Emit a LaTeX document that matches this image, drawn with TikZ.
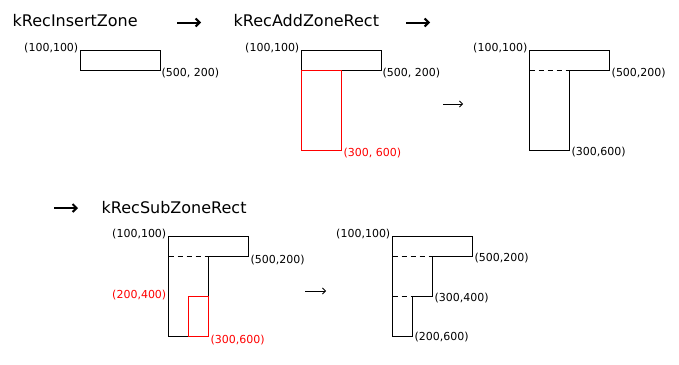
\documentclass[tikz,border=0pt]{standalone}
\usepackage{fontspec}
\setmainfont{DejaVu Sans}
\usetikzlibrary{arrows.meta}
\begin{document}
\begin{tikzpicture}[x=1pt,y=-1pt,
  outl/.style={draw=black,line width=1pt},
  redoutl/.style={draw=red,line width=1pt},
  dashline/.style={draw=black,line width=1pt,dash pattern=on 5pt off 4pt},
  lbl/.style={font=\fontsize{11}{12}\selectfont,inner sep=0pt},
  redlbl/.style={lbl,text=red},
  title/.style={font=\fontsize{16}{18}\selectfont,inner sep=0pt,anchor=base west},
  bigarrow/.style={line width=2pt,-{Straight Barb[length=4pt,width=8pt]}},
  smallarrow/.style={line width=0.8pt,-{Straight Barb[length=3pt,width=6pt]}}]
\useasboundingbox (0,0) rectangle (679,364);
% titles
\node[title] (t1) at (12.5,26.7) {kRecInsertZone};
\node[title] (t2) at (233.5,26.7) {kRecAddZoneRect};
\node[title] (t3) at (101.5,213) {kRecSubZoneRect};
% arrows
\coordinate (a1s) at (177,22.5); \coordinate (a1e) at (201,22.5);
\coordinate (a2s) at (406,22.5); \coordinate (a2e) at (430,22.5);
\coordinate (a3s) at (54,208); \coordinate (a3e) at (78,208);
\coordinate (a4s) at (443,104); \coordinate (a4e) at (463,104);
\coordinate (a5s) at (305,291); \coordinate (a5e) at (326,291);
\draw[bigarrow] (a1s) -- (a1e);
\draw[bigarrow] (a2s) -- (a2e);
\draw[bigarrow] (a3s) -- (a3e);
\draw[smallarrow] (a4s) -- (a4e);
\draw[smallarrow] (a5s) -- (a5e);
% diagram 1
\coordinate (d1a) at (80.5,50.5); \coordinate (d1b) at (160.5,70.5);
\draw[outl] (d1a) rectangle (d1b);
\node[lbl,anchor=east] (d1l1) at ([shift={(-2,-2)}]d1a) {(100,100)};
\node[lbl,anchor=west] (d1l2) at ([shift={(1,3)}]d1b) {(500, 200)};
% diagram 2
\coordinate (d2a) at (301.5,50.5); \coordinate (d2b) at (381.5,70.5);
\coordinate (d2c) at (301.5,70.5); \coordinate (d2d) at (341.5,150.5);
\draw[outl] (d2a) rectangle (d2b);
\draw[redoutl] (d2c) rectangle (d2d);
\node[lbl,anchor=east] (d2l1) at ([shift={(-2,-2)}]d2a) {(100,100)};
\node[lbl,anchor=west] (d2l2) at ([shift={(1,3)}]d2b) {(500, 200)};
\node[redlbl,anchor=west] (d2l3) at ([shift={(2,3)}]d2d) {(300, 600)};
% diagram 3
\coordinate (d3a) at (529.5,50.5); \coordinate (d3b) at (609.5,70.5);
\coordinate (d3c) at (569.5,150.5);
\draw[outl] (d3a) -- (d3b |- d3a) -- (d3b) -- (d3c |- d3b) -- (d3c) -- (d3a |- d3c) -- cycle;
\draw[dashline] (d3a |- d3b) -- (d3c |- d3b);
\node[lbl,anchor=east] (d3l1) at ([shift={(-2,-2)}]d3a) {(100,100)};
\node[lbl,anchor=west] (d3l2) at ([shift={(2,3)}]d3b) {(500,200)};
\node[lbl,anchor=west] (d3l3) at ([shift={(2,2)}]d3c) {(300,600)};
% diagram 4
\coordinate (d4a) at (168.5,236.5); \coordinate (d4b) at (248.5,256.5);
\coordinate (d4c) at (208.5,336.5);
\coordinate (d4r1) at (188.5,296.5);
\draw[outl] (d4a) -- (d4b |- d4a) -- (d4b) -- (d4c |- d4b) -- (d4c) -- (d4a |- d4c) -- cycle;
\draw[dashline] (d4a |- d4b) -- (d4c |- d4b);
\draw[redoutl] (d4r1) rectangle (d4c);
\node[lbl,anchor=east] (d4l1) at ([shift={(-2,-2)}]d4a) {(100,100)};
\node[lbl,anchor=west] (d4l2) at ([shift={(2,4)}]d4b) {(500,200)};
\node[redlbl,anchor=east] (d4l3) at (166.5,295) {(200,400)};
\node[redlbl,anchor=west] (d4l4) at ([shift={(2,4)}]d4c) {(300,600)};
% diagram 5
\coordinate (d5a) at (392.5,236.5); \coordinate (d5b) at (472.5,256.5);
\coordinate (d5c) at (432.5,296.5); \coordinate (d5d) at (412.5,336.5);
\draw[outl] (d5a) -- (d5b |- d5a) -- (d5b) -- (d5c |- d5b) -- (d5c) -- (d5d |- d5c) -- (d5d) -- (d5a |- d5d) -- cycle;
\draw[dashline] (d5a |- d5b) -- (d5c |- d5b);
\draw[dashline] (d5a |- d5c) -- (d5d |- d5c);
\node[lbl,anchor=east] (d5l1) at ([shift={(-2,-2)}]d5a) {(100,100)};
\node[lbl,anchor=west] (d5l2) at ([shift={(2,2)}]d5b) {(500,200)};
\node[lbl,anchor=west] (d5l3) at ([shift={(2,2)}]d5c) {(300,400)};
\node[lbl,anchor=west] (d5l4) at ([shift={(2,1)}]d5d) {(200,600)};
\end{tikzpicture}
\end{document}
